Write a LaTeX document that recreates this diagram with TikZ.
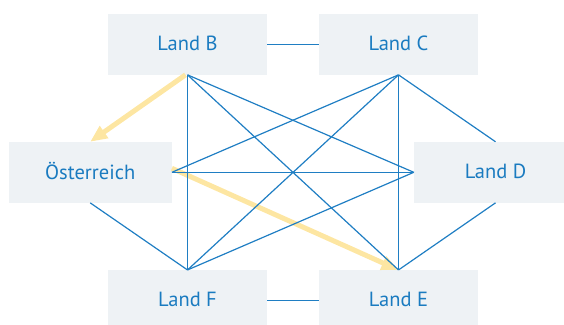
\documentclass[tikz,border=0pt]{standalone}
\usepackage{fontspec}
\setmainfont{PT Sans}
\usetikzlibrary{arrows.meta}
\definecolor{linkblue}{HTML}{1F7EC3}
\definecolor{labelblue}{HTML}{1A7BC0}
\definecolor{boxfill}{HTML}{EEF2F5}
\definecolor{flowyellow}{HTML}{FDE6A2}
\newcommand{\countrylabel}[1]{\raisebox{2pt}{#1}}
\tikzset{
  country/.style={fill=boxfill, draw=none, minimum height=60.7pt,
    text=labelblue, font=\fontsize{20.5}{24}\selectfont, inner sep=0pt},
  link/.style={draw=linkblue, line width=1.2pt},
  flow/.style={draw=flowyellow, line width=5pt,
    -{Triangle[width=14pt,length=17pt]}},
}
\begin{document}
\begin{tikzpicture}[x=1pt, y=-1pt]
  \useasboundingbox (0,0) rectangle (564,324);
  \clip (0,0) rectangle (564,324);

  % country boxes
  \node[country, minimum width=159pt] (B) at (187.5,44.3) {\countrylabel{Land B}};
  \node[country, minimum width=159pt] (C) at (398.5,44.3) {\countrylabel{Land C}};
  \node[country, minimum width=163pt] (A) at (90.2,172.3) {\countrylabel{Österreich}};
  \node[country, minimum width=163pt] (D) at (495.5,172.3) {\countrylabel{Land D}};
  \node[country, minimum width=159pt] (F) at (187.5,300.5) {\countrylabel{Land F}};
  \node[country, minimum width=159pt] (E) at (398.5,300.5) {\countrylabel{Land E}};

  % trade flows (behind the links)
  \coordinate (Aout) at ([yshift=4pt]A.east);
  \draw[flow] ([xshift=-2pt]B.south) -- (A.north);
  \draw[flow] (Aout) -- (E.north);

  % links between countries
  \draw[link] (B.east) -- (C.west);
  \draw[link] (F.east) -- (E.west);
  \draw[link] (B.south) -- (F.north);
  \draw[link] (B.south) -- (E.north);
  \draw[link] (B.south) -- (D.west);
  \draw[link] (C.south) -- (A.east);
  \draw[link] (C.south) -- (F.north);
  \draw[link] (C.south) -- (E.north);
  \draw[link] (C.south) -- (D.north);
  \draw[link] (A.east) -- (D.west);
  \draw[link] (A.south) -- (F.north);
  \draw[link] (F.north) -- (D.west);
  \draw[link] (E.north) -- (D.south);
\end{tikzpicture}
\end{document}
